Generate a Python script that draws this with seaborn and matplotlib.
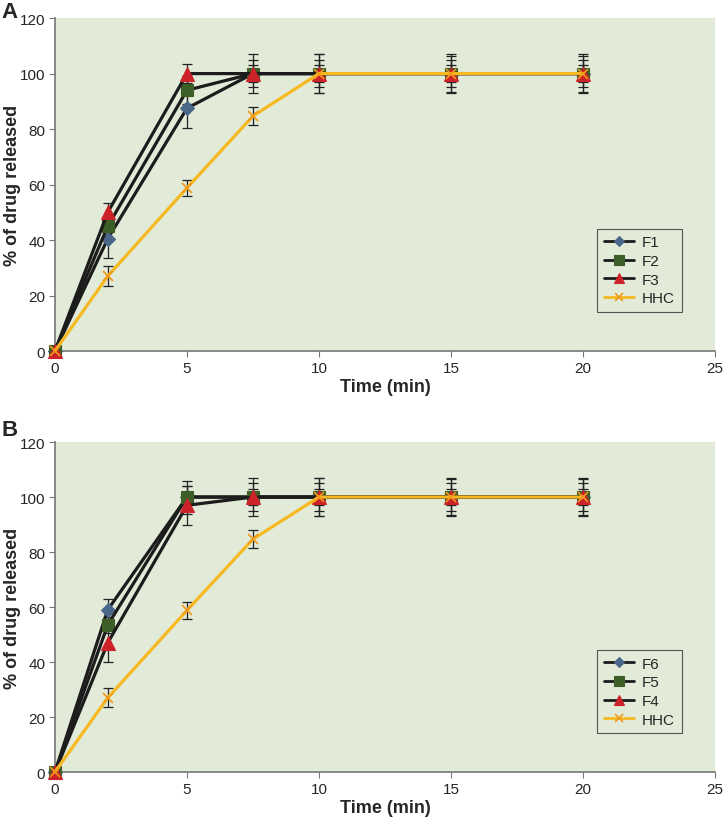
import numpy as np
import pandas as pd
import matplotlib
matplotlib.use("Agg")
import matplotlib.pyplot as plt
import seaborn as sns

time = [0, 2, 5, 7.5, 10, 15, 20]

# Panel A
f1 = [0, 40.5, 87.5, 100, 100, 100, 100]
f1_err = [0, 7, 7, 7, 7, 7, 7]
f2 = [0, 45, 94, 100, 100, 100, 100]
f2_err = [0, 4, 5, 5, 5, 5, 5]
f3 = [0, 50, 100, 100, 100, 100, 100]
f3_err = [0, 3.5, 3.5, 3, 3, 3, 3]
hhc = [0, 27, 58.8, 84.7, 100, 100, 100]
hhc_err = [0, 3.5, 3, 3.2, 7, 6.5, 6.5]

# Panel B
f6 = [0, 59, 100, 100, 100, 100, 100]
f6_err = [0, 4, 4, 7, 7, 7, 7]
f5 = [0, 53.5, 100, 100, 100, 100, 100]
f5_err = [0, 3, 6, 5, 5, 5, 5]
f4 = [0, 47, 97, 100, 100, 100, 100]
f4_err = [0, 7, 7, 3, 3, 3, 3]

sns.set_style("ticks")
plt.rcParams['font.family'] = ['Liberation Sans', 'DejaVu Sans']

bg = '#e2ead8'
styles = {
    'diamond': dict(color='#1c1c1c', marker='D', ms=7, mfc='#4a6689', mec='#4a6689', mew=0.8),
    'square': dict(color='#1c1c1c', marker='s', ms=9, mfc='#3e5e27', mec='#3e5e27', mew=0.8),
    'triangle': dict(color='#1c1c1c', marker='^', ms=10, mfc='#cc2229', mec='#cc2229', mew=0.8),
    'hhc': dict(color='#f6b922', marker='x', ms=7, mfc='#f09a1c', mec='#f09a1c', mew=1.2),
}

fig = plt.figure(figsize=(7.23, 8.20), dpi=100)
ax_a = fig.add_axes([0.076, 0.5707, 0.913, 0.406])
ax_b = fig.add_axes([0.076, 0.0573, 0.913, 0.4024])


def draw_panel(ax, series, letter, letter_y):
    ax.set_facecolor(bg)
    for name, vals, err, key in series:
        ax.errorbar(time, vals, yerr=err, fmt='none', ecolor='#222222',
                    elinewidth=0.9, capsize=3.5, capthick=0.9, zorder=2, clip_on=False)
    for name, vals, err, key in series:
        st = styles[key]
        df = pd.DataFrame({'time': time, 'val': vals})
        sns.lineplot(data=df, x='time', y='val', ax=ax, label=name, color=st['color'],
                     lw=2.3, marker=st['marker'], markersize=st['ms'],
                     markerfacecolor=st['mfc'], markeredgecolor=st['mec'],
                     markeredgewidth=st['mew'], zorder=3, clip_on=False)
    ax.set_xlim(0, 25)
    ax.set_ylim(0, 120)
    ax.set_xticks(range(0, 26, 5))
    ax.set_yticks(range(0, 121, 20))
    ax.tick_params(labelsize=11, length=4, color='#777777', pad=3)
    for s in ['left', 'bottom']:
        ax.spines[s].set_color('#777777')
        ax.spines[s].set_linewidth(1.2)
    sns.despine(ax=ax)
    ax.set_xlabel('Time (min)', fontsize=13, fontweight='bold', labelpad=2)
    ax.set_ylabel('% of drug released', fontsize=13, fontweight='bold')
    ax.yaxis.set_label_coords(-0.052, 0.5)
    leg = ax.legend(loc='lower left', bbox_to_anchor=(0.821, 0.117), fontsize=11,
                    fancybox=False, handlelength=2.0, handletextpad=0.5, markerscale=0.75,
                    borderpad=0.45, labelspacing=0.3, borderaxespad=0,
                    edgecolor='#555555', facecolor=bg, framealpha=1)
    leg.get_frame().set_linewidth(0.8)
    for line in leg.get_lines():
        line.set_linewidth(2.0)
    fig.text(0.002, letter_y, letter, fontsize=16, fontweight='bold', va='top', ha='left')


draw_panel(ax_a, [('F1', f1, f1_err, 'diamond'), ('F2', f2, f2_err, 'square'),
                  ('F3', f3, f3_err, 'triangle'), ('HHC', hhc, hhc_err, 'hhc')], 'A', 0.998)
draw_panel(ax_b, [('F6', f6, f6_err, 'diamond'), ('F5', f5, f5_err, 'square'),
                  ('F4', f4, f4_err, 'triangle'), ('HHC', hhc, hhc_err, 'hhc')], 'B', 0.488)

fig.savefig('out.png', dpi=100)
